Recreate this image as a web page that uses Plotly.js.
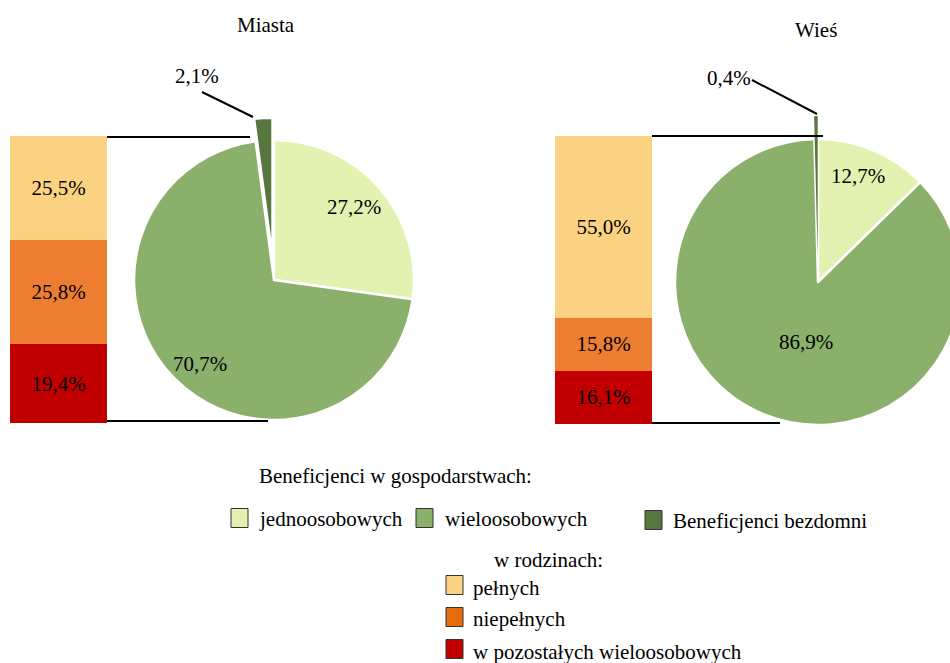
<!DOCTYPE html>
<html><head><meta charset="utf-8">
<script src="https://cdn.plot.ly/plotly-3.0.1.min.js"></script>
<style>html,body{margin:0;padding:0;overflow:hidden;background:#fff}#chart{width:1000px;height:663px}</style>
</head><body><div id="chart"></div>
<script>
const titles = ['Miasta', 'Wieś'];
const pieLabels = ['jednoosobowych', 'wieloosobowych', 'Beneficjenci bezdomni'];
const pieColors = ['#E3F2B0', '#8AB06C', '#56783F'];
const miastaPie = [27.2, 70.7, 2.1];
const wiesPie = [12.7, 86.9, 0.4];
const barCats = ['pełnych', 'niepełnych', 'w pozostałych wieloosobowych'];
const barColors = ['#FAD282', '#ED7D31', '#C00000'];
const miastaBar = [25.5, 25.8, 19.4];
const wiesBar = [55.0, 15.8, 16.1];
const legendHeader1 = 'Beneficjenci w gospodarstwach:';
const legendHeader2 = 'w rodzinach:';

const W = 1000, H = 663;
const FONT = 'Liberation Serif, Times New Roman, serif';
const FS = 21;
const px = x => x / W;
const py = y => 1 - y / H;

const traces = [];
function pie(values, cx, cy, r, pull, lineW) {
  const half = r * (1 + pull);
  return {
    type: 'pie', values: values, labels: pieLabels, sort: false, direction: 'clockwise', rotation: 0,
    marker: {colors: pieColors, line: {color: '#ffffff', width: lineW}},
    pull: values.map((v, i) => i === 2 ? pull : 0),
    textinfo: 'none',
    showlegend: false, hoverinfo: 'label+value',
    domain: {x: [px(cx - half), px(cx + half)], y: [py(cy + half), py(cy - half)]}
  };
}
traces.push(pie(miastaPie, 274, 280, 140, 0.16, 2.5));
traces.push(pie(wiesPie, 818, 282, 143, 0.16, [2.5, 2.5, 0]));

[[miastaBar, 'x', 'y'], [wiesBar, 'x2', 'y2']].forEach(([vals, xa, ya]) => {
  for (let i = barCats.length - 1; i >= 0; i--) {
    traces.push({
      type: 'bar', x: [0], y: [vals[i]], name: barCats[i], xaxis: xa, yaxis: ya, width: 1,
      marker: {color: barColors[i], line: {width: 0}},
      texttemplate: '%{y:.1f}%', textposition: 'inside', insidetextanchor: 'middle', textangle: 0,
      insidetextfont: {family: FONT, size: FS, color: '#000'}, constraintext: 'none',
      showlegend: false, hoverinfo: 'name+y'
    });
  }
});
const sum = a => a.reduce((s, v) => s + v, 0);
const hid = {visible: false, fixedrange: true, showgrid: false, zeroline: false};

const shapes = [];
const annotations = [];
const ln = (x0, y0, x1, y1, w) => shapes.push({type: 'line', xref: 'paper', yref: 'paper', x0: px(x0), y0: py(y0), x1: px(x1), y1: py(y1), line: {color: '#000', width: w || 2}});
ln(107, 137, 250, 137); ln(107, 421, 268, 421);
ln(652, 136, 823, 136); ln(652, 423, 780, 423);
ln(202, 92, 253, 117, 2); ln(752, 80, 817, 114, 2);
const fmt = v => v.toFixed(1).replace('.', ',') + '%';
const txt = (x, y, t, xa) => annotations.push({xref: 'paper', yref: 'paper', x: px(x), y: py(y), text: t, showarrow: false, xanchor: xa || 'center', yanchor: 'middle', font: {family: FONT, size: FS, color: '#000'}});
const miastaLabelPos = [[354, 207], [200, 364], [197, 76]];
const wiesLabelPos = [[858, 176], [806, 342], [729, 78]];
miastaPie.forEach((v, i) => txt(miastaLabelPos[i][0], miastaLabelPos[i][1], fmt(v)));
wiesPie.forEach((v, i) => txt(wiesLabelPos[i][0], wiesLabelPos[i][1], fmt(v)));
txt(266, 25, titles[0]);
txt(816, 30, titles[1]);

const sq = (x, y, c) => shapes.push({type: 'rect', xref: 'paper', yref: 'paper', x0: px(x), x1: px(x + 17), y0: py(y + 9.5), y1: py(y - 9.5), fillcolor: c, line: {color: '#333', width: 1}});
txt(257, 476, legendHeader1, 'left');
sq(231, 518, pieColors[0]); txt(257, 519, pieLabels[0], 'left');
sq(416, 518, pieColors[1]); txt(443, 519, pieLabels[1], 'left');
sq(645, 520, pieColors[2]); txt(671, 521, pieLabels[2], 'left');
txt(548, 560, legendHeader2);
sq(446, 585, barColors[0]); txt(471, 588, barCats[0], 'left');
sq(446, 617, '#E46C0A'); txt(471, 619, barCats[1], 'left');
sq(446, 649, barColors[2]); txt(471, 652, barCats[2], 'left');

const layout = {
  width: W, height: H, margin: {l: 0, r: 0, t: 0, b: 0},
  paper_bgcolor: '#fff', plot_bgcolor: 'rgba(0,0,0,0)',
  separators: ', ', barmode: 'stack', bargap: 0,
  font: {family: FONT, size: FS, color: '#000'},
  xaxis: Object.assign({domain: [px(10), px(107)], range: [-0.5, 0.5]}, hid),
  yaxis: Object.assign({domain: [py(423), py(136)], range: [0, sum(miastaBar)]}, hid),
  xaxis2: Object.assign({domain: [px(555), px(652)], range: [-0.5, 0.5], anchor: 'y2'}, hid),
  yaxis2: Object.assign({domain: [py(424), py(136)], range: [0, sum(wiesBar)], anchor: 'x2'}, hid),
  shapes: shapes, annotations: annotations, showlegend: false
};
Plotly.newPlot('chart', traces, layout, {displayModeBar: false, staticPlot: true});
</script></body></html>
